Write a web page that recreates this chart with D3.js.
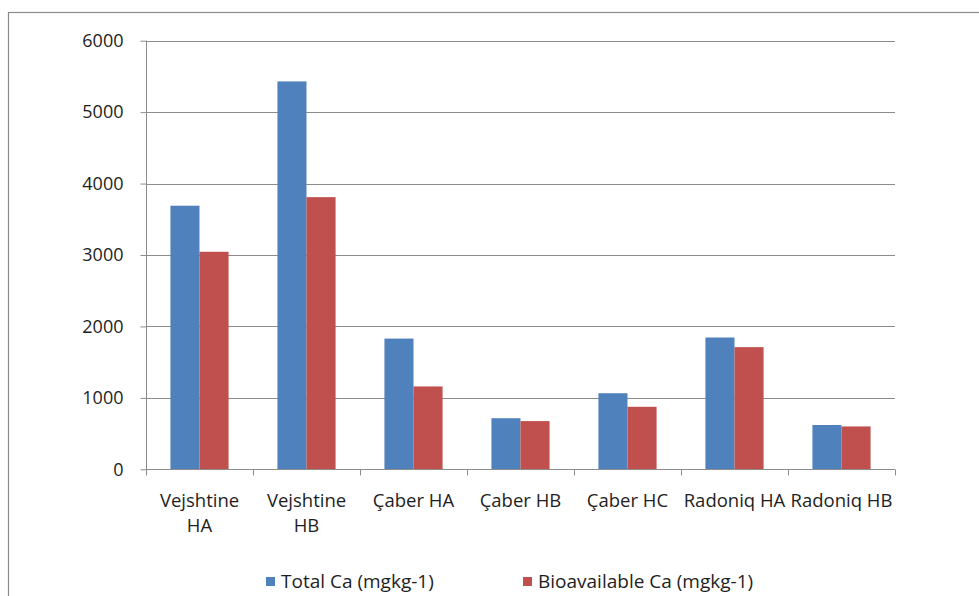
<!DOCTYPE html>
<html>
<head>
<meta charset="utf-8">
<script src="https://cdn.jsdelivr.net/npm/d3@7"></script>
<style>
  html, body { margin: 0; padding: 0; background: #fff; }
  svg { display: block; font-family: "Open Sans", "Noto Sans", sans-serif; }
</style>
</head>
<body>
<svg id="chart" width="979" height="596"></svg>
<script>
// Calcium content per sampling site and horizon
const categories = [
  ["Vejshtine", "HA"],
  ["Vejshtine", "HB"],
  ["Çaber HA"],
  ["Çaber HB"],
  ["Çaber HC"],
  ["Radoniq HA"],
  ["Radoniq HB"]
];
const totalCa = [3690, 5430, 1830, 715, 1065, 1845, 620];
const bioavailableCa = [3045, 3810, 1160, 675, 875, 1710, 600];
const seriesNames = ["Total Ca (mgkg-1)", "Bioavailable Ca (mgkg-1)"];
const seriesColors = ["#4F81BD", "#C0504D"];
const yTicks = [0, 1000, 2000, 3000, 4000, 5000, 6000];

const svg = d3.select("#chart");
const plot = { left: 146, right: 895, top: 40.7, bottom: 469.3 };
const gridColor = "#8c8c8c";
const textColor = "#1e1e1e";

// outer chart frame
svg.append("rect")
  .attr("x", 8.5).attr("y", 12.5)
  .attr("width", 990).attr("height", 620)
  .attr("fill", "#fff").attr("stroke", "#8a8a8a").attr("stroke-width", 1.2);

const keys = categories.map((c, i) => i);
const x = d3.scaleBand().domain(keys).range([plot.left, plot.right]).paddingInner(0).paddingOuter(0);
const inner = d3.scaleBand().domain([0, 1]).range([0, x.bandwidth()]).paddingInner(0).paddingOuter(0.84);
const y = d3.scaleLinear().domain([0, 6000]).range([plot.bottom, plot.top]);

// horizontal gridlines
svg.append("g")
  .selectAll("line")
  .data(yTicks.filter(t => t > 0))
  .join("line")
  .attr("x1", plot.left).attr("x2", plot.right)
  .attr("y1", d => Math.round(y(d)) + 0.5).attr("y2", d => Math.round(y(d)) + 0.5)
  .attr("stroke", gridColor).attr("stroke-width", 1);

// bars
const rows = keys.map(i => [totalCa[i], bioavailableCa[i]]);
svg.append("g")
  .selectAll("g")
  .data(rows)
  .join("g")
  .attr("transform", (d, i) => `translate(${x(i)},0)`)
  .selectAll("rect")
  .data(d => d.map((v, s) => ({ v, s })))
  .join("rect")
  .attr("x", d => inner(d.s))
  .attr("width", inner.bandwidth())
  .attr("y", d => y(d.v))
  .attr("height", d => plot.bottom - y(d.v))
  .attr("fill", d => seriesColors[d.s]);

// y axis
const yAxis = svg.append("g")
  .attr("transform", `translate(${plot.left + 0.5},0)`)
  .call(d3.axisLeft(y).tickValues(yTicks).tickSize(6).tickPadding(17).tickFormat(d3.format("d")));
yAxis.select(".domain").attr("stroke", gridColor).attr("d", `M0,${plot.top}V${plot.bottom}`);
yAxis.selectAll(".tick line").attr("stroke", gridColor);
yAxis.selectAll(".tick text")
  .attr("font-size", 18).attr("fill", textColor)
  .attr("font-family", "'Open Sans', sans-serif");

// x axis with tick marks at category boundaries
const xAxisG = svg.append("g").attr("transform", `translate(0,${Math.round(plot.bottom) + 0.5})`);
xAxisG.append("line")
  .attr("x1", plot.left).attr("x2", plot.right)
  .attr("stroke", gridColor);
const boundaries = keys.map(i => x(i)).concat([plot.right]);
xAxisG.selectAll("line.tk")
  .data(boundaries)
  .join("line")
  .attr("class", "tk")
  .attr("x1", d => Math.round(d) + 0.5).attr("x2", d => Math.round(d) + 0.5)
  .attr("y1", 0).attr("y2", 6)
  .attr("stroke", gridColor);

// category labels
const lab = svg.append("g")
  .attr("font-size", 18.5).attr("fill", textColor).attr("text-anchor", "middle");
categories.forEach((lines, i) => {
  const t = lab.append("text")
    .attr("x", x(i) + x.bandwidth() / 2)
    .attr("y", 507);
  lines.forEach((ln, k) => {
    t.append("tspan")
      .attr("x", x(i) + x.bandwidth() / 2)
      .attr("dy", k === 0 ? 0 : 25)
      .text(ln);
  });
});

// legend
const legendX = [266, 523];
const legend = svg.append("g");
seriesNames.forEach((name, s) => {
  legend.append("rect")
    .attr("x", legendX[s]).attr("y", 577)
    .attr("width", 9).attr("height", 9)
    .attr("fill", seriesColors[s]);
  legend.append("text")
    .attr("x", legendX[s] + 15).attr("y", 588)
    .attr("font-size", 19).attr("fill", textColor)
    .text(name);
});
</script>
</body>
</html>
